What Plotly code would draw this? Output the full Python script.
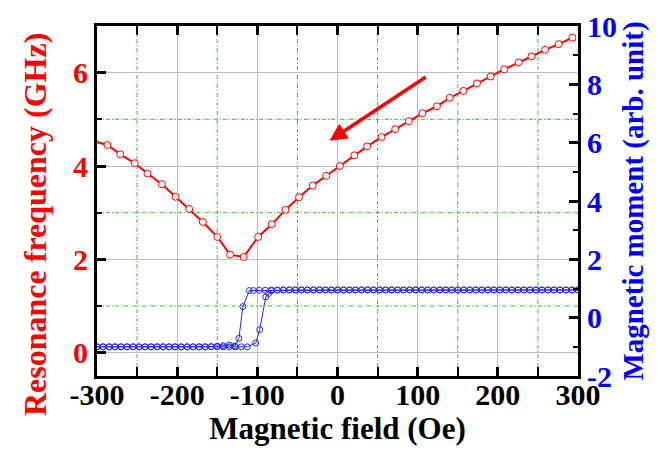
import plotly.graph_objects as go

# ---------------- data ----------------
field_f = [-304, -287, -271, -253, -237, -219, -202, -185, -168, -150, -134, -117, -99, -82,
           -65, -48, -31, -14, 3, 21, 37, 55, 72, 89, 106, 124, 140, 157, 174, 191, 208,
           226, 242, 259, 276, 293]
freq = [4.53, 4.45, 4.25, 4.06, 3.84, 3.61, 3.34, 3.08, 2.80, 2.48, 2.10, 2.05, 2.48, 2.75,
        3.06, 3.33, 3.58, 3.79, 4.00, 4.23, 4.42, 4.62, 4.79, 4.96, 5.13, 5.28, 5.46, 5.61,
        5.77, 5.92, 6.07, 6.22, 6.35, 6.49, 6.61, 6.75]

field_down = [300, 292.5, 285, 277.5, 270, 262.5, 255, 247.5, 240, 232.5, 225, 217.5, 210,
              202.5, 195, 187.5, 180, 172.5, 165, 157.5, 150, 142.5, 135, 127.5, 120, 112.5,
              105, 97.5, 90, 82.5, 75, 67.5, 60, 52.5, 45, 37.5, 30, 22.5, 15, 7.5, 0, -7.5,
              -15, -22.5, -30, -37.5, -45, -52.5, -60, -67.5, -75, -82.5, -90, -97.5, -105,
              -110, -118, -123, -128, -135, -142.5, -150, -157.5, -165, -172.5, -180, -187.5,
              -195, -202.5, -210, -217.5, -225, -232.5, -240, -247.5, -255, -262.5, -270,
              -277.5, -285, -292.5, -300]
moment_down = [0.95, 0.95, 0.95, 0.95, 0.95, 0.95, 0.95, 0.95, 0.95, 0.95, 0.95, 0.95, 0.95,
               0.95, 0.95, 0.95, 0.95, 0.95, 0.95, 0.95, 0.95, 0.95, 0.95, 0.95, 0.95, 0.95,
               0.95, 0.95, 0.95, 0.95, 0.95, 0.95, 0.95, 0.95, 0.95, 0.95, 0.95, 0.95, 0.95,
               0.95, 0.95, 0.95, 0.95, 0.95, 0.95, 0.95, 0.95, 0.95, 0.95, 0.95, 0.95, 0.95,
               0.94, 0.94, 0.93,
               0.93, 0.38, -0.71, -0.97, -0.94, -0.96, -0.98, -0.99, -1.0, -1.0, -1.0, -1.0,
               -1.0, -1.0, -1.0, -1.0, -1.0, -1.0, -1.0, -1.0, -1.0, -1.0, -1.0, -1.0, -1.0,
               -1.0, -1.0]

field_up = [-300, -292.5, -285, -277.5, -270, -262.5, -255, -247.5, -240, -232.5, -225,
            -217.5, -210, -202.5, -195, -187.5, -180, -172.5, -165, -157.5, -150, -142.5,
            -135, -127.5, -120, -112.5,
            -102, -97, -89.5, -86, -82.5,
            -75, -67.5, -60, -52.5, -45, -37.5, -30, -22.5, -15, -7.5, 0, 7.5, 15, 22.5, 30,
            37.5, 45, 52.5, 60, 67.5, 75, 82.5, 90, 97.5, 105, 112.5, 120, 127.5, 135, 142.5,
            150, 157.5, 165, 172.5, 180, 187.5, 195, 202.5, 210, 217.5, 225, 232.5, 240,
            247.5, 255, 262.5, 270, 277.5, 285, 292.5, 300]
moment_up = [-1.0, -1.0, -1.0, -1.0, -1.0, -1.0, -1.0, -1.0, -1.0, -1.0, -1.0, -1.0, -1.0,
             -1.0, -1.0, -1.0, -1.0, -1.0, -1.0, -1.0, -1.0, -1.0, -1.0, -1.0, -1.0, -1.0,
             -0.87, -0.41, 0.71, 0.83, 0.92,
             0.94, 0.95, 0.95, 0.95, 0.95, 0.95, 0.95, 0.95, 0.95, 0.95, 0.95, 0.95, 0.95,
             0.95, 0.95, 0.95, 0.95, 0.95, 0.95, 0.95, 0.95, 0.95, 0.95, 0.95, 0.95, 0.95,
             0.95, 0.95, 0.95, 0.95, 0.95, 0.95, 0.95, 0.95, 0.95, 0.95, 0.95, 0.95, 0.95,
             0.95, 0.95, 0.95, 0.95, 0.95, 0.95, 0.95, 0.95, 0.95, 0.95, 0.95, 0.95]

x_ticks = [-300, -200, -100, 0, 100, 200, 300]
x_ticktext = ["-300", "-200", "-100", "0", "100", "200", "300"]
x_minor = [-250, -150, -50, 50, 150, 250]
y1_ticks = [0, 2, 4, 6]
y1_ticktext = ["0", "2", "4", "6"]
y1_minor = [1, 3, 5]
y2_ticks = [-2, 0, 2, 4, 6, 8, 10]
y2_ticktext = ["-2", "0", "2", "4", "6", "8", "10"]
y2_minor = [-1, 1, 3, 5, 7, 9]

# arrow (data coordinates: head, tail)
arrow_head = (-10, 4.54)
arrow_tail = (112, 5.93)

FONT = "Liberation Serif"
RED = "#ff0000"
BLUE = "#0000ff"
GRAY = "#bdbdbd"
GREEN = "#22cc22"
DASH = "4px,2px,1px,2px"

fig = go.Figure()
fig.add_trace(go.Scatter(
    x=field_down, y=moment_down, yaxis="y2", mode="lines+markers",
    line=dict(color="#2a2ae0", width=1),
    marker=dict(symbol="circle-open", size=6, color="#2a2ae0", line=dict(width=1)),
    showlegend=False))
fig.add_trace(go.Scatter(
    x=field_up, y=moment_up, yaxis="y2", mode="lines+markers",
    line=dict(color="#2a2ae0", width=1),
    marker=dict(symbol="circle-open", size=6, color="#2a2ae0", line=dict(width=1)),
    showlegend=False))
fig.add_trace(go.Scatter(
    x=field_f, y=freq, mode="lines+markers",
    line=dict(color=RED, width=2),
    marker=dict(symbol="circle", size=7, color="white", line=dict(color=RED, width=1)),
    showlegend=False))

# green dash-dot grid lines at the minor tick positions
for xv in x_minor:
    fig.add_shape(type="line", xref="x", yref="paper", x0=xv, x1=xv, y0=0, y1=1,
                  layer="below", line=dict(color=GREEN, width=1, dash=DASH))
for yv in y1_minor:
    fig.add_shape(type="line", xref="paper", yref="y", x0=0, x1=1, y0=yv, y1=yv,
                  layer="below", line=dict(color=GREEN, width=1, dash=DASH))

fig.add_annotation(x=arrow_head[0], y=arrow_head[1], ax=arrow_tail[0], ay=arrow_tail[1],
                   xref="x", yref="y", axref="x", ayref="y", text="", showarrow=True,
                   arrowhead=2, arrowsize=1.0, arrowwidth=3.5, arrowcolor=RED)

# left axis title (placed slightly below the axis centre, as in the reference)
fig.add_annotation(text="Resonance frequency (GHz)", textangle=-90, showarrow=False,
                   xref="paper", yref="paper", x=0, y=0.5, xanchor="center",
                   yanchor="middle", xshift=-62, yshift=-24,
                   font=dict(family=FONT, size=32, color=RED, weight="bold"))

fig.update_layout(
    width=663, height=461,
    margin=dict(l=97, r=85, t=26, b=85, autoexpand=False),
    plot_bgcolor="white", paper_bgcolor="white",
    xaxis=dict(
        range=[-300, 300], tickmode="array", tickvals=x_ticks, ticktext=x_ticktext,
        ticks="inside", ticklen=9, tickwidth=3, tickcolor="black",
        showline=True, linewidth=3, linecolor="black", mirror="allticks",
        showgrid=True, gridcolor=GRAY, gridwidth=1, zeroline=False,
        ticklabelstandoff=-10,
        tickfont=dict(family=FONT, size=30, color="black", weight="bold"),
        title=dict(text="Magnetic field (Oe)", standoff=0,
                   font=dict(family=FONT, size=31, color="black", weight="bold")),
        minor=dict(tickmode="array", tickvals=x_minor, ticks="inside", ticklen=5,
                   tickwidth=2, tickcolor="black", showgrid=False),
    ),
    yaxis=dict(
        range=[-0.5, 7], tickmode="array", tickvals=y1_ticks, ticktext=y1_ticktext,
        ticks="inside", ticklen=9, tickwidth=3, tickcolor="black",
        showline=True, linewidth=3, linecolor="black", mirror=False,
        showgrid=True, gridcolor=GRAY, gridwidth=1, zeroline=False,
        tickfont=dict(family=FONT, size=30, color=RED, weight="bold"),
        minor=dict(tickmode="array", tickvals=y1_minor, ticks="inside", ticklen=5,
                   tickwidth=2, tickcolor="black", showgrid=False),
    ),
    yaxis2=dict(
        overlaying="y", side="right", range=[-2, 10], tickmode="array",
        tickvals=y2_ticks, ticktext=y2_ticktext,
        ticks="inside", ticklen=9, tickwidth=3, tickcolor="black",
        showline=True, linewidth=3, linecolor="black",
        showgrid=False, zeroline=False,
        tickfont=dict(family=FONT, size=30, color=BLUE, weight="bold"),
        title=dict(text="Magnetic moment (arb. unit)", standoff=6,
                   font=dict(family=FONT, size=29, color=BLUE, weight="bold")),
        minor=dict(tickmode="array", tickvals=y2_minor, ticks="inside", ticklen=5,
                   tickwidth=2, tickcolor="black", showgrid=False),
    ),
)

fig.write_html(
    "out.html",
    config={"displayModeBar": False},
    post_script="document.body.style.margin='0';document.body.style.overflow='hidden';",
)
